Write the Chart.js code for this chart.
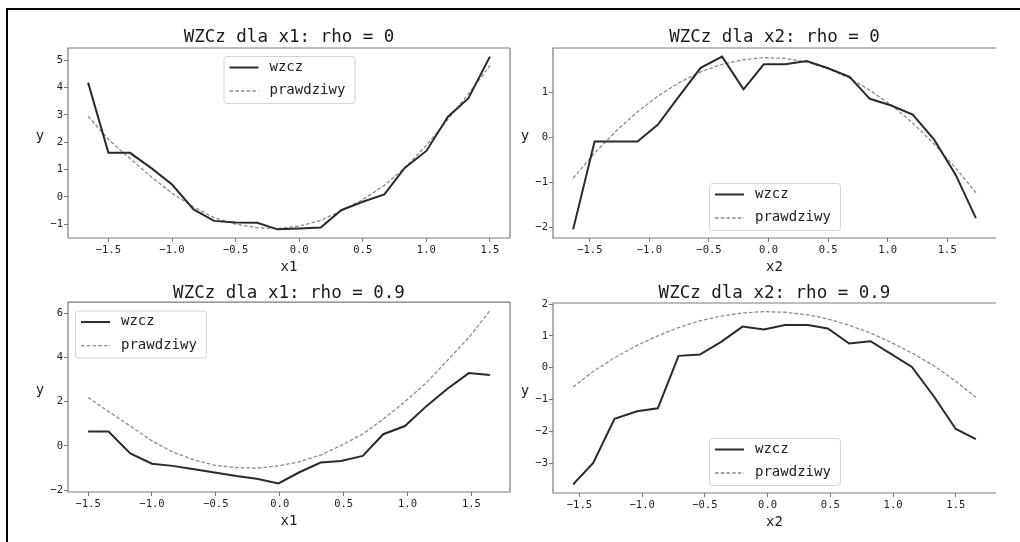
<!DOCTYPE html>
<html>
<head>
    <meta charset="utf-8" />
    <title>WZCz</title>
    <script src="https://cdn.jsdelivr.net/npm/chart.js"></script>
    <style>
        body { margin: 0; background: #fff; width: 1020px; height: 542px; overflow: hidden; position: relative; }
        #ramka { position: absolute; left: 6px; top: 8px; width: 1020px; height: 540px; border-left: 2px solid #000; border-top: 2px solid #000; }
        .panel { position: absolute; }
    </style>
</head>
<body>
    <div id="ramka"></div>
    <div class="panel" id="p1"><canvas id="c1"></canvas></div>
    <div class="panel" id="p2"><canvas id="c2"></canvas></div>
    <div class="panel" id="p3"><canvas id="c3"></canvas></div>
    <div class="panel" id="p4"><canvas id="c4"></canvas></div>

    <script>
        // dane
        const x1_r0 = [-1.66, -1.50, -1.33, -1.16, -1.00, -0.83, -0.67, -0.50, -0.33, -0.17, 0.00, 0.17, 0.33, 0.50, 0.67, 0.83, 1.00, 1.17, 1.33, 1.50];
        const wzcz_x1_r0 = [4.18, 1.61, 1.61, 1.04, 0.45, -0.46, -0.88, -0.94, -0.95, -1.19, -1.16, -1.12, -0.49, -0.18, 0.09, 1.06, 1.68, 2.93, 3.60, 5.13];
        const prawdziwy_x1_r0 = [2.95, 2.10, 1.40, 0.72, 0.13, -0.37, -0.76, -1.00, -1.13, -1.16, -1.07, -0.86, -0.52, -0.10, 0.42, 1.06, 1.88, 2.84, 3.76, 4.80];

        const x2_r0 = [-1.64, -1.46, -1.28, -1.10, -0.93, -0.75, -0.57, -0.39, -0.21, -0.04, 0.14, 0.32, 0.50, 0.68, 0.85, 1.03, 1.21, 1.39, 1.57, 1.74];
        const wzcz_x2_r0 = [-2.05, -0.09, -0.09, -0.09, 0.28, 0.92, 1.55, 1.80, 1.07, 1.63, 1.63, 1.70, 1.54, 1.35, 0.86, 0.71, 0.51, -0.05, -0.83, -1.80];
        const prawdziwy_x2_r0 = [-0.91, -0.35, 0.14, 0.57, 0.92, 1.22, 1.46, 1.63, 1.73, 1.78, 1.76, 1.68, 1.53, 1.32, 1.05, 0.72, 0.32, -0.15, -0.68, -1.23];

        const x1_r09 = [-1.50, -1.34, -1.17, -1.00, -0.84, -0.67, -0.51, -0.34, -0.18, -0.01, 0.15, 0.32, 0.48, 0.65, 0.81, 0.98, 1.15, 1.31, 1.48, 1.645];
        const wzcz_x1_r09 = [0.65, 0.65, -0.34, -0.80, -0.90, -1.05, -1.20, -1.36, -1.48, -1.69, -1.20, -0.75, -0.68, -0.45, 0.53, 0.90, 1.81, 2.57, 3.29, 3.20];
        const prawdziwy_x1_r09 = [2.19, 1.55, 0.90, 0.23, -0.27, -0.63, -0.87, -0.98, -1.00, -0.90, -0.72, -0.41, 0.02, 0.54, 1.21, 2.00, 2.87, 3.85, 4.90, 6.11];

        const x2_r09 = [-1.55, -1.39, -1.22, -1.04, -0.875, -0.71, -0.54, -0.37, -0.20, -0.03, 0.14, 0.32, 0.48, 0.65, 0.82, 0.98, 1.15, 1.33, 1.50, 1.66];
        const wzcz_x2_r09 = [-3.67, -3.00, -1.61, -1.37, -1.28, 0.37, 0.41, 0.81, 1.29, 1.20, 1.34, 1.34, 1.23, 0.76, 0.83, 0.44, 0.02, -0.93, -1.93, -2.25];
        const prawdziwy_x2_r09 = [-0.61, -0.12, 0.31, 0.70, 1.00, 1.26, 1.47, 1.62, 1.72, 1.76, 1.74, 1.66, 1.53, 1.33, 1.09, 0.80, 0.46, 0.05, -0.43, -0.93];

        const xTicks = [-1.5, -1.0, -0.5, 0.0, 0.5, 1.0, 1.5];
        const yTicks_x1_r0 = [-1, 0, 1, 2, 3, 4, 5];
        const yTicks_x2_r0 = [-2, -1, 0, 1];
        const yTicks_x1_r09 = [-2, 0, 2, 4, 6];
        const yTicks_x2_r09 = [-3, -2, -1, 0, 1, 2];

        Chart.defaults.font.family = '"DejaVu Sans Mono", monospace';
        Chart.defaults.color = '#333';

        const SPINE = '#7a7a7a';

        // margines jak w matplotlib (5%)
        function limits(arrs) {
            var all = [].concat.apply([], arrs);
            var lo = Math.min.apply(null, all), hi = Math.max.apply(null, all);
            var m = (hi - lo) * 0.05;
            return [lo - m, hi + m];
        }

        function minus(s) { return s.replace('-', '\u2212'); }

        // rama osi, legenda w srodku wykresu i etykieta "y" bez obrotu
        const ramkaPlugin = {
            id: 'ramka',
            afterDatasetsDraw(chart, args, opts) {
                const ctx = chart.ctx;
                const a = chart.chartArea;
                ctx.save();
                ctx.strokeStyle = SPINE;
                ctx.lineWidth = 1.2;
                ctx.beginPath();
                ctx.moveTo(a.right, a.top);
                ctx.lineTo(a.left, a.top);
                ctx.lineTo(a.left, a.bottom);
                ctx.lineTo(a.right, a.bottom);
                if (opts.rightSpine) ctx.lineTo(a.right, a.top);
                ctx.stroke();

                // legenda
                const w = 131, h = 47;
                const bx = opts.legX === 'center' ? (a.left + a.right) / 2 - w / 2 : a.left + opts.legDx;
                const by = opts.legY === 'top' ? a.top + opts.legDy : a.bottom - opts.legDy - h;
                ctx.fillStyle = 'rgba(255,255,255,0.8)';
                ctx.strokeStyle = '#d4d4d4';
                ctx.lineWidth = 1;
                ctx.beginPath();
                ctx.roundRect(bx + 0.5, by + 0.5, w, h, 3);
                ctx.fill();
                ctx.stroke();
                ctx.font = '14px "DejaVu Sans Mono"';
                ctx.textAlign = 'left';
                ctx.textBaseline = 'middle';
                chart.data.datasets.forEach(function (ds, i) {
                    const ry = by + 11.5 + i * 23.5;
                    ctx.strokeStyle = ds.borderColor;
                    ctx.lineWidth = ds.borderWidth;
                    ctx.setLineDash(ds.borderDash || []);
                    ctx.beginPath();
                    ctx.moveTo(bx + 6, ry);
                    ctx.lineTo(bx + 35, ry);
                    ctx.stroke();
                    ctx.setLineDash([]);
                    ctx.fillStyle = '#222';
                    ctx.fillText(ds.label, bx + 46, ry - 0.5);
                });

                // etykieta osi y (poziomo, jak w matplotlib)
                ctx.fillStyle = '#1a1a1a';
                ctx.textAlign = 'center';
                ctx.textBaseline = 'alphabetic';
                ctx.fillText(chart.options.scales.y.title.text, a.left - 28, (a.top + a.bottom) / 2 - 3.5);
                ctx.restore();
            }
        };

        function rysuj(p) {
            const div = document.getElementById(p.div);
            const th = 28, xh = 45;
            const divLeft = p.L - p.yw, divTop = p.T - th;
            div.style.left = divLeft + 'px';
            div.style.top = divTop + 'px';
            div.style.width = (p.R - p.L + p.yw + p.rp) + 'px';
            div.style.height = (p.B - p.T + th + xh) + 'px';

            const pt = p.titleMid - divTop - 8.75;
            const pb = Math.max(0, th - pt - 17.5);
            const xl = limits([p.xs]);
            const yl = limits([p.wzcz, p.prawdziwy]);

            const data = {
                datasets: [{
                    label: 'wzcz',
                    data: p.xs.map(function (x, i) { return { x: x, y: p.wzcz[i] }; }),
                    borderColor: '#2a2a2a',
                    borderWidth: 2
                }, {
                    label: 'prawdziwy',
                    data: p.xs.map(function (x, i) { return { x: x, y: p.prawdziwy[i] }; }),
                    borderColor: '#8c8c8c',
                    borderWidth: 1.3,
                    borderDash: [3.7, 2]
                }]
            };

            const config = {
                type: 'line',
                data,
                options: {
                    responsive: true,
                    maintainAspectRatio: false,
                    animation: false,
                    devicePixelRatio: 1,
                    layout: { padding: { left: 0, right: p.rp, top: 0, bottom: 0 } },
                    elements: { point: { radius: 0 }, line: { tension: 0 } },
                    plugins: {
                        legend: { display: false },
                        tooltip: { enabled: false },
                        title: {
                            display: true,
                            text: p.title,
                            fullSize: false,
                            color: '#1a1a1a',
                            font: { size: 17.5, weight: 'normal', lineHeight: 1 },
                            padding: { top: pt, bottom: pb }
                        },
                        ramka: { rightSpine: p.rightSpine, legX: p.legX, legY: p.legY, legDx: p.legDx, legDy: p.legDy }
                    },
                    scales: {
                        x: {
                            type: 'linear',
                            min: xl[0], max: xl[1],
                            border: { display: false },
                            grid: { display: true, drawOnChartArea: false, drawTicks: true, tickLength: 4, color: SPINE },
                            ticks: {
                                font: { size: 10.5 }, padding: 1.5, maxRotation: 0, color: '#222',
                                callback: function (v) { return minus(v.toFixed(1)); }
                            },
                            afterBuildTicks: function (s) { s.ticks = xTicks.map(function (v) { return { value: v }; }); },
                            afterFit: function (s) { s.height = xh; },
                            title: { display: true, text: p.xLabel, color: '#1a1a1a', font: { size: 14, lineHeight: 1 }, padding: { top: 0, bottom: 9 } }
                        },
                        y: {
                            type: 'linear',
                            min: yl[0], max: yl[1],
                            border: { display: false },
                            grid: { display: true, drawOnChartArea: false, drawTicks: true, tickLength: 4, color: SPINE },
                            ticks: {
                                font: { size: 10.5 }, padding: 1, color: '#222',
                                callback: function (v) { return minus(String(v)); }
                            },
                            afterBuildTicks: function (s) { s.ticks = p.yTicks.map(function (v) { return { value: v }; }); },
                            afterFit: function (s) { s.width = p.yw; },
                            title: { display: false, text: 'y' }
                        }
                    }
                },
                plugins: [ramkaPlugin]
            };

            return new Chart(document.getElementById(p.canvas), config);
        }

        rysuj({ div: 'p1', canvas: 'c1', title: 'WZCz dla x1: rho = 0', xLabel: 'x1',
            xs: x1_r0, wzcz: wzcz_x1_r0, prawdziwy: prawdziwy_x1_r0, yTicks: yTicks_x1_r0,
            L: 68, T: 48, R: 510, B: 238, yw: 60, rp: 4, titleMid: 37.75, rightSpine: true,
            legX: 'center', legY: 'top', legDx: 0, legDy: 8 });

        rysuj({ div: 'p2', canvas: 'c2', title: 'WZCz dla x2: rho = 0', xLabel: 'x2',
            xs: x2_r0, wzcz: wzcz_x2_r0, prawdziwy: prawdziwy_x2_r0, yTicks: yTicks_x2_r0,
            L: 553, T: 48, R: 996, B: 238, yw: 41, rp: 20, titleMid: 37.75, rightSpine: false,
            legX: 'center', legY: 'bottom', legDx: 0, legDy: 8 });

        rysuj({ div: 'p3', canvas: 'c3', title: 'WZCz dla x1: rho = 0.9', xLabel: 'x1',
            xs: x1_r09, wzcz: wzcz_x1_r09, prawdziwy: prawdziwy_x1_r09, yTicks: yTicks_x1_r09,
            L: 68, T: 302, R: 510, B: 492, yw: 60, rp: 4, titleMid: 293.3, rightSpine: true,
            legX: 'left', legY: 'top', legDx: 7, legDy: 8.5 });

        rysuj({ div: 'p4', canvas: 'c4', title: 'WZCz dla x2: rho = 0.9', xLabel: 'x2',
            xs: x2_r09, wzcz: wzcz_x2_r09, prawdziwy: prawdziwy_x2_r09, yTicks: yTicks_x2_r09,
            L: 553, T: 303, R: 996, B: 493, yw: 41, rp: 20, titleMid: 293.3, rightSpine: false,
            legX: 'center', legY: 'bottom', legDx: 0, legDy: 8 });
    </script>
</body>
</html>
